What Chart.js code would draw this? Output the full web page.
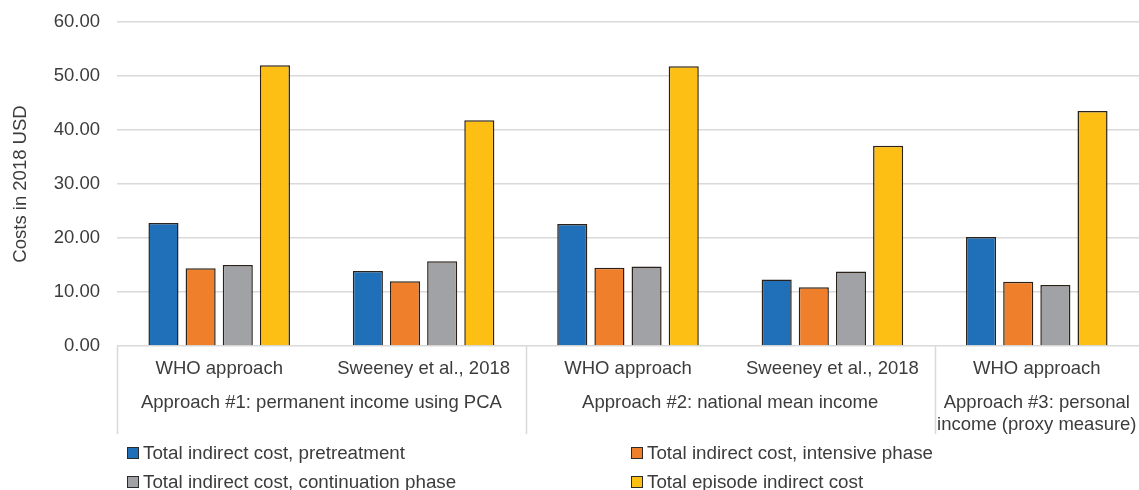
<!DOCTYPE html>
<html>
<head>
<meta charset="utf-8">
<script src="https://cdn.jsdelivr.net/npm/chart.js@4.4.0/dist/chart.umd.min.js"></script>
<style>
  html, body { margin:0; padding:0; background:#fff; }
  #wrap { position:relative; width:1139px; height:490px; overflow:hidden; font-family:"Liberation Sans", Arial, sans-serif; }
  #legend { position:absolute; left:127px; top:442px; width:1010px; display:grid; grid-template-columns:504px 500px; row-gap:7px; color:#3c3c3c; font-size:18.8px; }
  #legend div { display:flex; align-items:center; height:22px; white-space:nowrap; }
  #legend span.box { display:inline-block; width:10px; height:10px; border:1px solid #2a2a2a; margin-right:4px; }
</style>
</head>
<body>
<div id="wrap">
  <canvas id="chart" width="1139" height="490"></canvas>
  <div id="legend"></div>
</div>
<script>
// sub labels (one per bar group) and the approach groups they belong to
const subLabels = ['WHO approach', 'Sweeney et al., 2018', 'WHO approach', 'Sweeney et al., 2018', 'WHO approach'];
const groupLabels = [
  { lines: ['Approach #1: permanent income using PCA'], from: 0, to: 1 },
  { lines: ['Approach #2: national mean income'], from: 2, to: 3 },
  { lines: ['Approach #3: personal', 'income (proxy measure)'], from: 4, to: 4 }
];

const seriesNames = [
  'Total indirect cost, pretreatment',
  'Total indirect cost, intensive phase',
  'Total indirect cost, continuation phase',
  'Total episode indirect cost'
];
const seriesColors = ['#1f6fb9', '#f07f2b', '#a0a2a5', '#fdbf14'];

const pretreatment = [22.8, 13.9, 22.6, 12.3, 20.2];
const intensive    = [14.4, 12.0, 14.5, 10.9, 11.9];
const continuation = [15.0, 15.7, 14.7, 13.8, 11.3];
const episodeTotal = [52.0, 41.8, 51.8, 37.1, 43.5];
const seriesValues = [pretreatment, intensive, continuation, episodeTotal];

const yTicks = [0, 10, 20, 30, 40, 50, 60];

const TEXT = '#3c3c3c';
const FONT = '"Liberation Sans", Arial, sans-serif';
const SIZE = 18.5;

// draws the approach labels under the sub labels and the box lines between groups
const groupAxis = {
  id: 'groupAxis',
  afterDraw(chart) {
    const x = chart.scales.x;
    const ctx = chart.ctx;
    const step = x.getPixelForValue(1) - x.getPixelForValue(0);
    const top = chart.chartArea.bottom;
    ctx.save();
    ctx.strokeStyle = '#d9d9d9';
    ctx.lineWidth = 1.5;
    const edges = [x.getPixelForValue(0) - step / 2];
    groupLabels.forEach(g => edges.push(x.getPixelForValue(g.to) + step / 2));
    edges.slice(0, edges.length - 1).forEach(px => {
      ctx.beginPath();
      ctx.moveTo(Math.round(px) + 0.5, top);
      ctx.lineTo(Math.round(px) + 0.5, top + 88);
      ctx.stroke();
    });
    ctx.fillStyle = TEXT;
    ctx.font = SIZE + 'px ' + FONT;
    ctx.textAlign = 'center';
    ctx.textBaseline = 'middle';
    groupLabels.forEach(g => {
      const cx = (x.getPixelForValue(g.from) + x.getPixelForValue(g.to)) / 2;
      g.lines.forEach((line, i) => ctx.fillText(line, cx, top + 57 + i * 22));
    });
    ctx.restore();
  }
};

new Chart(document.getElementById('chart'), {
  type: 'bar',
  data: {
    labels: subLabels,
    datasets: seriesNames.map((name, i) => ({
      label: name,
      data: seriesValues[i],
      backgroundColor: seriesColors[i],
      borderColor: '#2b2118',
      borderWidth: 1.5,
      categoryPercentage: 0.727,
      barPercentage: 0.81
    }))
  },
  options: {
    responsive: false,
    animation: false,
    layout: { padding: { top: 22, right: 0, left: 0, bottom: 0 } },
    plugins: { legend: { display: false }, tooltip: { enabled: false } },
    scales: {
      x: {
        grid: { display: false, drawTicks: false },
        border: { display: false },
        ticks: { color: TEXT, font: { size: SIZE, family: FONT }, padding: 12, maxRotation: 0, autoSkip: false },
        afterFit: s => { s.height = 144; s.paddingLeft = 0; s.paddingRight = 0; }
      },
      y: {
        min: 0, max: 60,
        afterBuildTicks: s => { s.ticks = yTicks.map(v => ({ value: v })); },
        grid: { color: '#d9d9d9', lineWidth: 1.5, drawTicks: false },
        border: { display: false },
        ticks: { color: TEXT, font: { size: SIZE, family: FONT }, padding: 17, callback: v => v.toFixed(2) },
        title: { display: true, text: 'Costs in 2018 USD', color: TEXT, font: { size: SIZE, family: FONT }, padding: { top: 10, bottom: 0 } },
        afterFit: s => { s.width = 117; s.paddingTop = 0; s.paddingBottom = 0; }
      }
    }
  },
  plugins: [groupAxis]
});

// legend in two columns, the way the original lays it out
const legend = document.getElementById('legend');
seriesNames.forEach((name, i) => {
  const item = document.createElement('div');
  const box = document.createElement('span');
  box.className = 'box';
  box.style.background = seriesColors[i];
  item.appendChild(box);
  item.appendChild(document.createTextNode(name));
  legend.appendChild(item);
});
</script>
</body>
</html>
